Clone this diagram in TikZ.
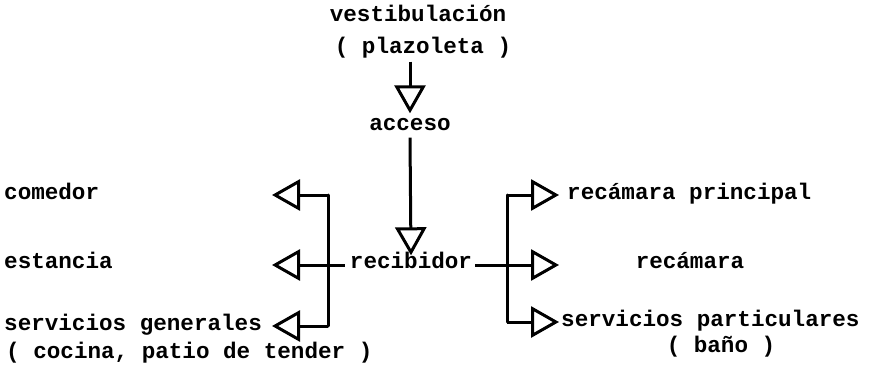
\documentclass[tikz,border=0pt]{standalone}
\usepackage{fontspec}
\setmonofont{Liberation Mono}
\usetikzlibrary{arrows.meta}
\begin{document}
\begin{tikzpicture}[x=1pt,y=-1pt,
  lbl/.style={font=\ttfamily\bfseries\fontsize{22.6}{24}\selectfont, inner sep=0pt, text height=11pt, text depth=4pt},
  bus/.style={line width=3pt, line cap=round, line join=round},
  flow/.style={line width=3pt, line join=round, -{Triangle[open, length=28pt, width=31pt, line width=3pt]}}]
\fill[white] (0,0) rectangle (870,377);
\useasboundingbox (0,0) rectangle (870,377);

% entrance sequence
\node[lbl] (vest) at (418,18) {vestibulación};
\node[lbl] (plaz) at (423,50) {( plazoleta )};
\node[lbl] (acc) at (410,127) {acceso};
\node[lbl] (rec) at (411,265) {recibidor};

% left group
\node[lbl, anchor=west] (com) at (4,196) {comedor};
\node[lbl, anchor=west] (est) at (4,265) {estancia};
\node[lbl, anchor=west] (sgen) at (4,327) {servicios generales};
\node[lbl, anchor=west] (coc) at (6,355) {( cocina, patio de tender )};

% right group
\node[lbl, anchor=west] (rprin) at (567,196) {recámara principal};
\node[lbl] (rcam) at (690,265) {recámara};
\node[lbl, anchor=west] (spart) at (561,323) {servicios particulares};
\node[lbl] (bano) at (721,349) {( baño )};

% bus lines and arrow tips
\coordinate (lbT) at (328,195);
\coordinate (lbB) at (328,326);
\coordinate (rbT) at (507,195);
\coordinate (rbB) at (507,322);
\coordinate (tCom) at (272,195);
\coordinate (tEst) at (272,265);
\coordinate (tSgen) at (272,326);
\coordinate (tRpr) at (559,195);
\coordinate (tRcm) at (559,265);
\coordinate (tSpa) at (559,322);

% vertical flow
\draw[flow] ([yshift=-4pt]plaz.south -| acc.north) -- ([yshift=6pt]acc.north);
\draw[flow] ([yshift=-3pt]acc.south) -- ([yshift=2pt]rec.north);

% left distribution
\draw[bus] (lbT) -- (lbB);
\draw[flow] (lbT) -- (tCom);
\draw[flow] ([xshift=-5pt]rec.west) -- (tEst);
\draw[flow] (lbB) -- (tSgen);

% right distribution
\draw[bus] (rbT) -- (rbB);
\draw[flow] (rbT) -- (tRpr);
\draw[flow] ([xshift=3pt]rec.east) -- (tRcm);
\draw[flow] (rbB) -- (tSpa);
\end{tikzpicture}
\end{document}
